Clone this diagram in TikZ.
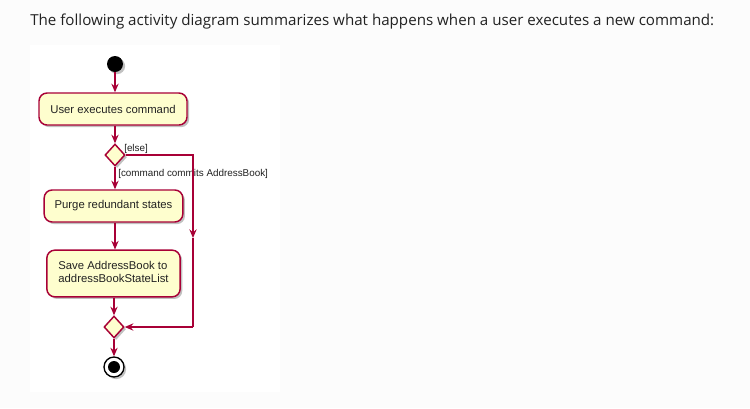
\documentclass[tikz,border=0pt]{standalone}
\usepackage{fontspec}
\setmainfont{Liberation Sans}
\newfontfamily\titlefont{Open Sans}
\usetikzlibrary{arrows.meta,shapes.geometric,shadows}
\definecolor{umlred}{HTML}{A80036}
\definecolor{umlfill}{HTML}{FEFECE}
\definecolor{pagebg}{HTML}{FCFCFC}
\definecolor{txt}{HTML}{222222}
\tikzset{
  shad/.style={drop shadow={shadow xshift=1.6pt, shadow yshift=-1.6pt, opacity=0.4, fill=black!60}},
  act/.style={draw=umlred, fill=umlfill, line width=1.1pt, rounded corners=6pt,
    font=\fontsize{8.5}{10.2}\selectfont, text=txt, inner sep=0pt, shad},
  dec/.style={diamond, draw=umlred, fill=umlfill, line width=1.1pt, inner sep=0pt,
    minimum width=15pt, minimum height=16.5pt, shad},
  flow/.style={draw=umlred, line width=0.9pt},
  arr/.style={flow, -{Stealth[length=6.5pt,width=5.5pt,inset=2.2pt]}},
  lbl/.style={font=\fontsize{7.4}{9}\selectfont, text=txt, inner sep=0pt, anchor=west}
}
\begin{document}
\begin{tikzpicture}[x=0.75pt,y=-0.75pt]
\useasboundingbox (0,0) rectangle (750,408);
\fill[pagebg] (0,0) rectangle (750,408);
\fill[white] (30,45) rectangle (280,392);
\node[anchor=base west, inner sep=0pt, text=txt] (title) at (30,25)
  {\resizebox{513pt}{!}{\titlefont\fontsize{11}{13}\selectfont The following activity diagram summarizes what happens when a user executes a new command:}};
% start
\node[circle, fill=black, minimum size=12pt, inner sep=0pt, shad] (start) at (115,64) {};
\node[act, minimum width=111pt, minimum height=24pt] (a1) at (113,109) {User executes command};
\node[dec] (d1) at (115,155) {};
\node[act, minimum width=104pt, minimum height=24pt] (a2) at (113.5,206) {Purge redundant states};
\node[act, minimum width=100pt, minimum height=35pt] (a3) at (113.5,273.5)
  {\renewcommand{\arraystretch}{0.95}\begin{tabular}{@{}l@{}}Save AddressBook to\\addressBookStateList\end{tabular}};
\node[dec] (d2) at (114,327) {};
% end
\node[circle, draw=black, fill=white, line width=1pt, minimum size=15pt, inner sep=0pt, shad] (stop) at (114,367) {};
\node[circle, fill=black, minimum size=9pt, inner sep=0pt] (stopin) at (stop.center) {};
% labels
\node[lbl] (lelse) at (124,149) {[else]};
\node[lbl] (lcmd) at (118,174) {[command commits AddressBook]};
% coordinates
\coordinate (c1) at (193,155);
\coordinate (c2) at (193,238);
\coordinate (c3) at (193,327);
% flows
\draw[arr] (start) -- (a1.north -| start);
\draw[arr] (a1.south -| d1) -- (d1.north);
\draw[arr] (d1.south) -- (a2.north -| d1);
\draw[arr] (a2.south -| d1) -- (a3.north -| d1);
\draw[arr] (a3.south -| d2) -- (d2.north);
\draw[arr] (d2.south) -- (stop.north);
\draw[arr] (d1.east) -- (c1) -- (c2);
\draw[flow] (c2) -- (c3);
\draw[arr] (c3) -- (d2.east);
\end{tikzpicture}
\end{document}
